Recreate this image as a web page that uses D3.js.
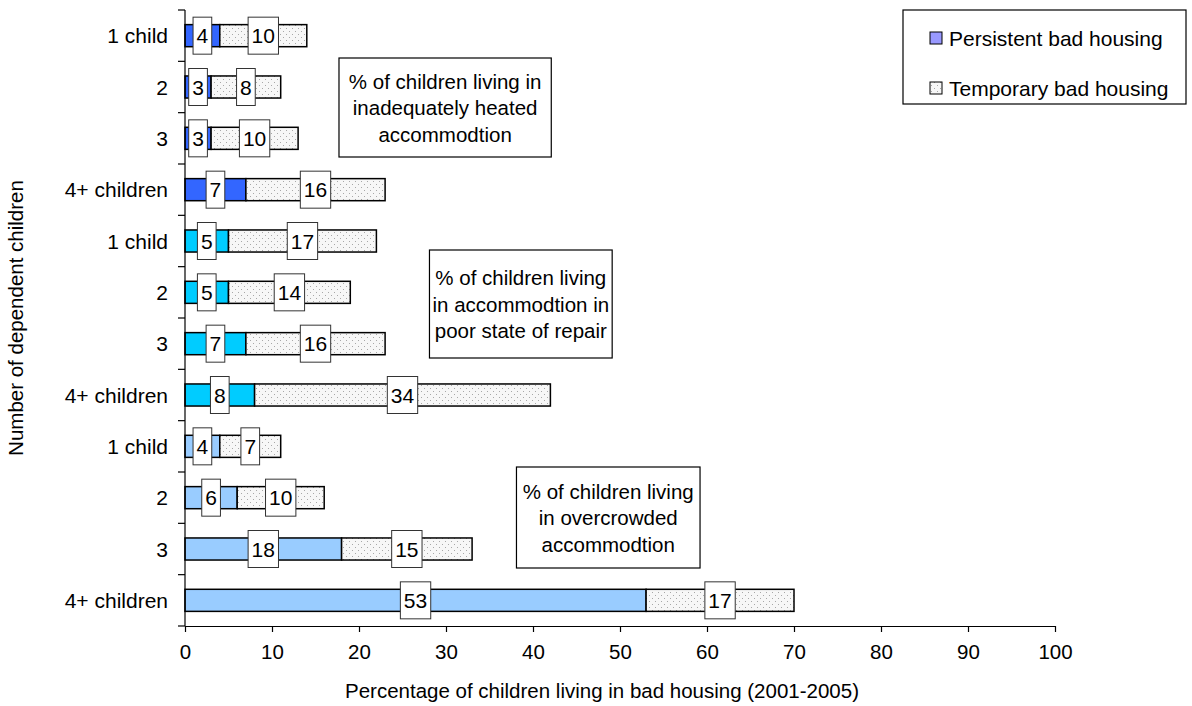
<!DOCTYPE html>
<html>
<head>
<meta charset="utf-8">
<script src="https://cdn.jsdelivr.net/npm/d3@7"></script>
<style>
  html, body { margin: 0; padding: 0; background: #fff; }
  svg text { font-family: Arial, "Liberation Sans", sans-serif; fill: #000; }
</style>
</head>
<body>
<svg id="chart" width="1192" height="706"></svg>
<script>
// ---- data ----
const categories = ["1 child", "2", "3", "4+ children",
                    "1 child", "2", "3", "4+ children",
                    "1 child", "2", "3", "4+ children"];
const groups = ["heated", "heated", "heated", "heated",
                "repair", "repair", "repair", "repair",
                "crowded", "crowded", "crowded", "crowded"];
const persistent = [4, 3, 3, 7, 5, 5, 7, 8, 4, 6, 18, 53];
const temporary  = [10, 8, 10, 16, 17, 14, 16, 34, 7, 10, 15, 17];
const xTicks = [0, 10, 20, 30, 40, 50, 60, 70, 80, 90, 100];
const seriesNames = ["Persistent bad housing", "Temporary bad housing"];
const groupColors = { heated: "#3366FF", repair: "#00CCFF", crowded: "#99CCFF" };
const annotations = [
  { lines: ["% of children living in", "inadequately heated", "accommodtion"] },
  { lines: ["% of children living", "in accommodtion in", "poor state of repair"] },
  { lines: ["% of children living", "in overcrowded", "accommodtion"] }
];
const xTitle = "Percentage of children living in bad housing (2001-2005)";
const yTitle = "Number of dependent children";

// ---- layout ----
const svg = d3.select("#chart");
const plot = { left: 185, right: 1055, top: 10, bottom: 626 };
const x = d3.scaleLinear().domain([0, 100]).range([plot.left, plot.right]);
const idx = d3.range(categories.length);
const y = d3.scaleBand().domain(idx).range([plot.top, plot.bottom]).paddingInner(0.57).paddingOuter(0.285);
const yb = d3.scaleBand().domain(idx).range([plot.top, plot.bottom]);

// pattern
const defs = svg.append("defs");
const pat = defs.append("pattern").attr("id", "dots").attr("patternUnits", "userSpaceOnUse")
  .attr("width", 6).attr("height", 6);
pat.append("rect").attr("width", 6).attr("height", 6).attr("fill", "#f7f7f7");
pat.append("rect").attr("x", 1).attr("y", 1).attr("width", 1).attr("height", 1).attr("fill", "#a8a8a8");
pat.append("rect").attr("x", 4).attr("y", 4).attr("width", 1).attr("height", 1).attr("fill", "#a8a8a8");

// bars
const rows = idx.map(i => ({ i, p: persistent[i], t: temporary[i], g: groups[i], c: categories[i] }));
const barG = svg.append("g");
barG.selectAll("rect.p").data(rows).join("rect").attr("class", "p")
  .attr("x", d => x(0)).attr("y", d => y(d.i))
  .attr("width", d => x(d.p) - x(0)).attr("height", y.bandwidth())
  .attr("fill", d => groupColors[d.g]).attr("stroke", "#000").attr("stroke-width", 1.5);
barG.selectAll("rect.t").data(rows).join("rect").attr("class", "t")
  .attr("x", d => x(d.p)).attr("y", d => y(d.i))
  .attr("width", d => x(d.p + d.t) - x(d.p)).attr("height", y.bandwidth())
  .attr("fill", "url(#dots)").attr("stroke", "#000").attr("stroke-width", 1.5);

// value labels
const labels = [];
rows.forEach(d => {
  labels.push({ v: d.p, cx: x(d.p / 2), cy: yb(d.i) + yb.bandwidth() / 2 });
  labels.push({ v: d.t, cx: x(d.p + d.t / 2), cy: yb(d.i) + yb.bandwidth() / 2 });
});
const lg = svg.append("g").selectAll("g").data(labels).join("g");
lg.each(function(d) {
  const g = d3.select(this);
  const r = g.append("rect");
  const t = g.append("text").attr("x", d.cx).attr("y", d.cy).attr("text-anchor", "middle")
    .attr("dominant-baseline", "central").attr("font-size", 21).text(d.v);
  const w = t.node().getComputedTextLength() + 7;
  r.attr("x", d.cx - w / 2).attr("y", d.cy - 18.5).attr("width", w).attr("height", 37)
    .attr("fill", "#fff").attr("stroke", "#333").attr("stroke-width", 1);
});

// axes
const xAxis = svg.append("g").attr("transform", `translate(0,${plot.bottom})`)
  .call(d3.axisBottom(x).tickValues(xTicks).tickSize(6).tickSizeOuter(0).tickPadding(12));
xAxis.select(".domain").attr("stroke", "#000").attr("stroke-width", 1.2);
xAxis.selectAll(".tick line").attr("stroke", "#000").attr("stroke-width", 1.2);
xAxis.selectAll("text").attr("font-size", 20.5).attr("font-family", "Arial, 'Liberation Sans', sans-serif");

// y axis line and ticks at band boundaries
const yBounds = idx.map(i => yb(i)).concat([plot.bottom]);
svg.append("line").attr("x1", plot.left).attr("x2", plot.left).attr("y1", plot.top).attr("y2", plot.bottom)
  .attr("stroke", "#000").attr("stroke-width", 1.2);
svg.append("g").selectAll("line").data(yBounds).join("line")
  .attr("x1", plot.left - 7).attr("x2", plot.left).attr("y1", d => d).attr("y2", d => d)
  .attr("stroke", "#000").attr("stroke-width", 1.2);
svg.append("g").selectAll("text").data(rows).join("text")
  .attr("x", plot.left - 17).attr("y", d => yb(d.i) + yb.bandwidth() / 2)
  .attr("text-anchor", "end").attr("dominant-baseline", "central").attr("font-size", 21)
  .text(d => d.c);

// axis titles
svg.append("text").attr("x", 602).attr("y", 690)
  .attr("text-anchor", "middle").attr("dominant-baseline", "central").attr("font-size", 20.5).text(xTitle);
svg.append("text").attr("transform", `translate(15,${(plot.top + plot.bottom) / 2}) rotate(-90)`)
  .attr("text-anchor", "middle").attr("dominant-baseline", "central").attr("font-size", 20.5).text(yTitle);

// annotation boxes
const annoBoxes = [
  { a: annotations[0], x0: x(17.7), x1: x(42.1), yTop: 58, yBot: 157 },
  { a: annotations[1], x0: x(28.1), x1: x(49.1), yTop: 250, yBot: 358 },
  { a: annotations[2], x0: x(38.1), x1: x(59.2), yTop: 467, yBot: 568 }
];
annoBoxes.forEach(b => {
  const g = svg.append("g");
  g.append("rect").attr("x", b.x0).attr("y", b.yTop).attr("width", b.x1 - b.x0).attr("height", b.yBot - b.yTop)
    .attr("fill", "#fff").attr("stroke", "#000").attr("stroke-width", 1.2);
  const cx = (b.x0 + b.x1) / 2, cy = (b.yTop + b.yBot) / 2;
  b.a.lines.forEach((l, k) => {
    g.append("text").attr("x", cx).attr("y", cy + (k - 1) * 26.5).attr("text-anchor", "middle")
      .attr("dominant-baseline", "central").attr("font-size", 20.5).text(l);
  });
});

// legend
const leg = svg.append("g");
leg.append("rect").attr("x", 903).attr("y", 10).attr("width", 283).attr("height", 94)
  .attr("fill", "#fff").attr("stroke", "#000").attr("stroke-width", 1.2);
const legFills = ["#9999FF", "url(#dots)"];
seriesNames.forEach((s, k) => {
  const cy = 38 + k * 50;
  leg.append("rect").attr("x", 930).attr("y", cy - 6).attr("width", 12).attr("height", 12)
    .attr("fill", legFills[k]).attr("stroke", "#000").attr("stroke-width", 1);
  leg.append("text").attr("x", 949).attr("y", cy).attr("dominant-baseline", "central")
    .attr("font-size", 21).text(s);
});
</script>
</body>
</html>
